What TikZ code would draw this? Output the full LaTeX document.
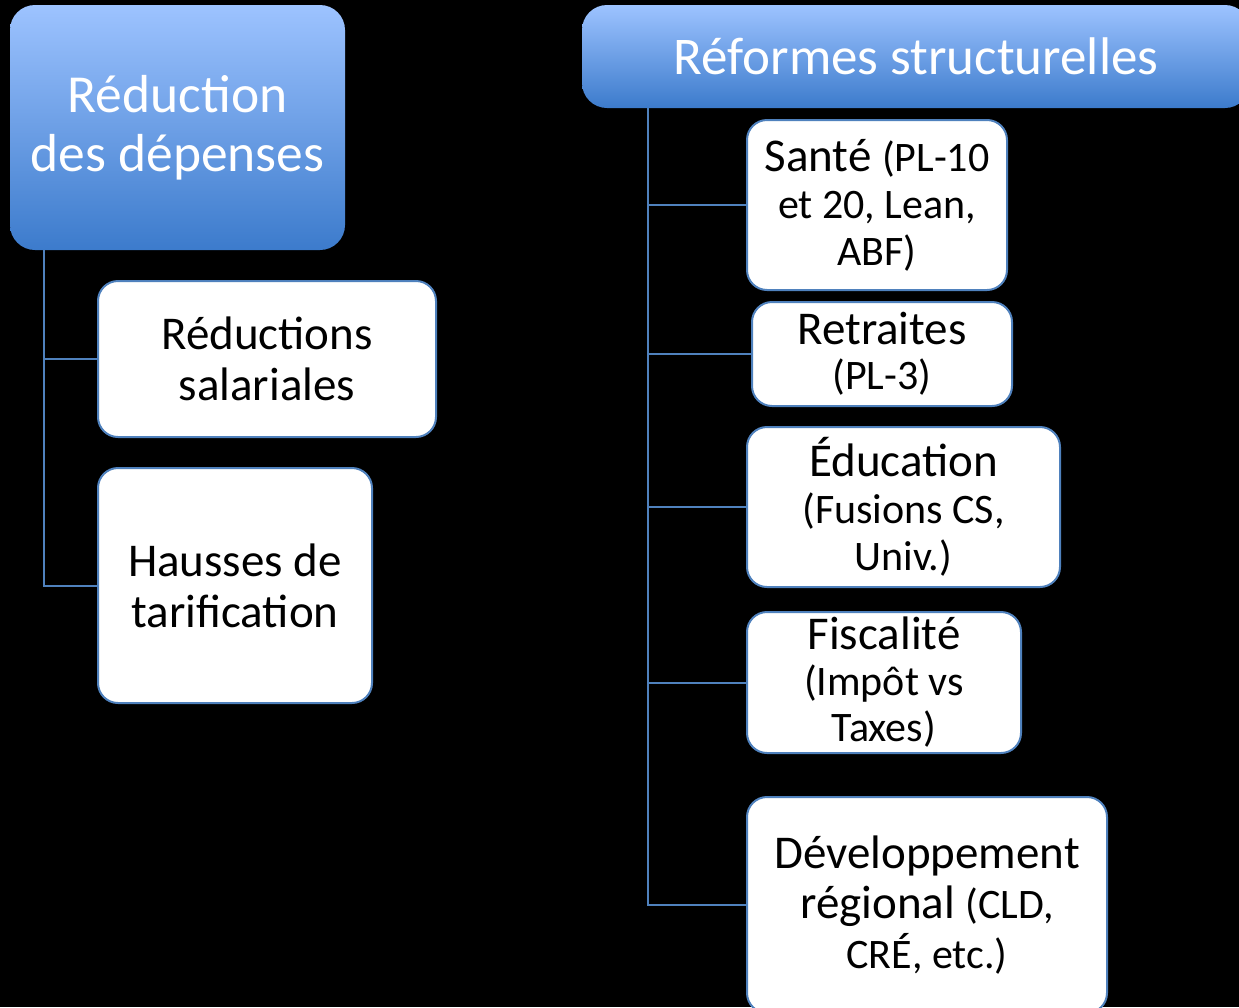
\documentclass[tikz,border=0pt]{standalone}
\usepackage{fontspec}
\setmainfont{Carlito}
\usepackage{tikz}
\definecolor{hdtop}{RGB}{157,195,255}
\definecolor{hdbot}{RGB}{60,123,204}
\definecolor{edge}{RGB}{79,129,189}
\newcommand{\subtxt}[1]{{\fontsize{42}{47}\selectfont #1}}
\tikzset{
  head/.style={shape=rectangle, rounded corners=25pt, top color=hdtop, bottom color=hdbot, text=white, align=center, inner sep=0pt},
  leaf/.style={shape=rectangle, rounded corners=20pt, draw=edge, line width=2pt, fill=white, text=black, align=center, inner sep=0pt, font=\fontsize{47}{47}\selectfont},
  link/.style={draw=edge, line width=2pt}
}

\begin{document}
\begin{tikzpicture}[x=1pt, y=-1pt]
    	% Paths, nodes and wires:
    	\fill[black] (0,0) rectangle (1239,1007);
    	\useasboundingbox (0,0) rectangle (1239,1007);
    	\node[head, minimum width=335pt, minimum height=245pt, font=\fontsize{53.5}{59}\selectfont](H1) at (177.5, 127.5){Réduction\\des dépenses};
    	\node[head, minimum width=668pt, minimum height=103pt, font=\fontsize{53}{60}\selectfont](H2) at (916, 56.5){Réformes structurelles};
    	\coordinate (C1) at (44, 250);
    	\coordinate (C2) at (648, 108);
    	\node[leaf, minimum width=338pt, minimum height=156pt, font=\fontsize{47}{51}\selectfont](N1) at (267, 359){Réductions\\salariales};
    	\node[leaf, minimum width=274pt, minimum height=235pt, font=\fontsize{47}{51}\selectfont](N2) at (235, 585.5){Hausses de\\tarification};
    	\node[leaf, minimum width=260pt, minimum height=170pt](N3) at (877, 205){Santé \subtxt{(PL-10}\\\subtxt{et 20, Lean,}\\\subtxt{ABF)}};
    	\node[leaf, minimum width=260pt, minimum height=104pt, font=\fontsize{47}{45}\selectfont](N4) at (882, 354){Retraites\\\subtxt{(PL-3)}};
    	\node[leaf, minimum width=313pt, minimum height=160pt](N5) at (903.5, 507){Éducation\\\subtxt{(Fusions CS,}\\\subtxt{Univ.)}};
    	\node[leaf, minimum width=274pt, minimum height=141pt, font=\fontsize{47}{46}\selectfont](N6) at (884, 682.5){Fiscalité\\\subtxt{(Impôt vs}\\\subtxt{Taxes)}};
    	\node[leaf, minimum width=360pt, minimum height=216pt, font=\fontsize{47}{50}\selectfont](N7) at (927, 905){Développement\\régional \subtxt{(CLD,}\\\subtxt{CRÉ, etc.)}};
    	\draw[link] (C1) |- (N2.west);
    	\draw[link] (C1 |- N1.west) -- (N1.west);
    	\draw[link] (C2) |- (N7.west);
    	\draw[link] (C2 |- N3.west) -- (N3.west);
    	\draw[link] (C2 |- N4.west) -- (N4.west);
    	\draw[link] (C2 |- N5.west) -- (N5.west);
    	\draw[link] (C2 |- N6.west) -- (N6.west);
    	\end{tikzpicture}
\end{document}
